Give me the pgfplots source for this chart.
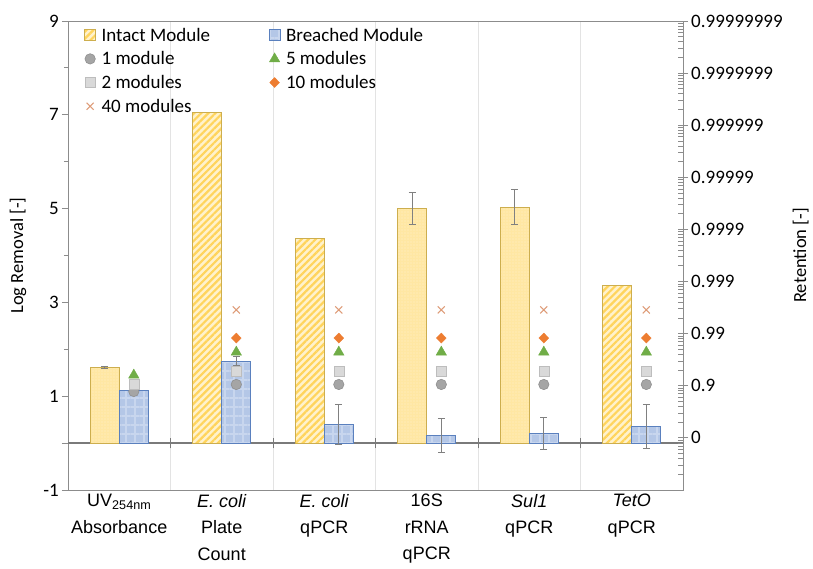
\documentclass[border=0pt]{standalone}
\usepackage{fontspec}
\setmainfont{Carlito}
\newfontfamily\arialfont{Liberation Sans}
\usepackage{pgfplots}
\pgfplotsset{compat=1.18}
\usetikzlibrary{patterns.meta}
\definecolor{intfill}{HTML}{FFF2CC}
\definecolor{intline}{HTML}{FFD45C}
\definecolor{intdot}{HTML}{FFE7A3}
\definecolor{intedge}{HTML}{CDAE4E}
\definecolor{brfill}{HTML}{B4C7E7}
\definecolor{bredge}{HTML}{5A80BE}
\definecolor{brpat}{HTML}{C8D6EE}
\definecolor{mone}{HTML}{A5A5A5}
\definecolor{moned}{HTML}{909090}
\definecolor{mtwo}{HTML}{D9D9D9}
\definecolor{mtwod}{HTML}{BDBDBD}
\definecolor{mfive}{HTML}{70AD47}
\definecolor{mten}{HTML}{ED7D31}
\definecolor{mforty}{HTML}{DE9C78}
\definecolor{errc}{HTML}{808080}
\definecolor{gridc}{HTML}{E3E3E3}
\definecolor{axc}{HTML}{8C8C8C}
\definecolor{zc}{HTML}{7A7A7A}
\pgfplotsset{
  barleg/.style={legend image code/.code={\draw[##1] (0bp,-5.5bp) rectangle (11bp,5.5bp);}},
  markleg/.style={legend image code/.code={\draw[##1] plot coordinates {(5.5bp,0bp)};}},
}
\begin{document}
\begin{tikzpicture}
\begin{axis}[
  at={(0,0)}, anchor=south west,
  scale only axis, width=615bp, height=469bp,
  xmin=-0.5, xmax=5.5, ymin=-1, ymax=9,
  axis line style={draw=axc, line width=0.9bp},
  xtick={0,1,2,3,4,5},
  xticklabels={{UV\textsubscript{254nm}\\Absorbance},{\textit{E. coli}\\Plate\\Count},{\textit{E. coli}\\qPCR},{16S\\rRNA\\qPCR},{\textit{Sul1}\\qPCR},{\textit{TetO}\\qPCR}},
  xticklabel style={font=\arialfont\fontsize{18bp}{26.5bp}\selectfont, align=center, anchor=north, inner sep=0pt, yshift=2bp},
  xtick style={draw=none},
  minor xtick={0.5,1.5,2.5,3.5,4.5},
  minor x tick style={draw=none},
  xminorgrids=true,
  minor x grid style={draw=gridc, line width=0.9bp},
  ytick={-1,1,3,5,7,9},
  yticklabels={-1,1,3,5,7,9},
  minor ytick={0,2,4,6,8},
  ytick pos=left,
  tick align=outside,
  major tick length=6bp, minor tick length=4bp,
  y tick style={draw=axc, line width=0.9bp},
  yticklabel style={font=\fontsize{19bp}{21bp}\selectfont, inner sep=3bp},
  /pgf/number format/assume math mode=true,
  extra y ticks={0}, extra y tick labels={},
  extra y tick style={ymajorgrids=true, major grid style={draw=zc, line width=1.2bp}, tick style={draw=none}},
  ylabel={Log Removal [-]},
  every axis y label/.style={at={(axis description cs:-0.0813,0.5)}, rotate=90, anchor=center, font=\fontsize{18.5bp}{20bp}\selectfont},
  legend columns=2,
  legend cell align=left,
  legend style={at={(axis description cs:0.026,0.989)}, anchor=north west, draw=none, fill=none, inner sep=0pt,
    font=\fontsize{19bp}{22bp}\selectfont, row sep=6bp,
    nodes={inner sep=1.5bp},
    /tikz/every odd column/.append style={column sep=4bp},
    /tikz/every even column/.append style={column sep=57bp}},
]
% Intact module bars (hatched)
\addplot[ybar, bar width=0.283, bar shift=-0.142, fill=intfill, draw=intedge, line width=0.9bp,
  postaction={pattern={Lines[angle=45,distance=5bp,line width=2.2bp]}, pattern color=intline}, barleg]
  coordinates {(1,7.04) (2,4.37) (5,3.37)};
\addlegendentry{Intact Module}
% Intact module bars (dotted)
\addplot[ybar, bar width=0.283, bar shift=-0.142, fill=intdot, draw=intedge, line width=0.9bp, forget plot,
  postaction={pattern={Dots[distance=3bp,radius=0.7bp]}, pattern color=intfill}]
  coordinates {(0,1.61) (3,5.00) (4,5.03)};
% Breached module bars
\addplot[ybar, bar width=0.283, bar shift=0.142, fill=brfill, draw=bredge, line width=0.9bp,
  postaction={pattern={Hatch[angle=0,distance=9bp,line width=1.2bp]}, pattern color=brpat}, barleg]
  coordinates {(0,1.12) (1,1.75) (2,0.40) (3,0.17) (4,0.21) (5,0.36)};
\addlegendentry{Breached Module}
% error bars
\addplot[draw=none, mark=none, forget plot,
  error bars/.cd, y dir=both, y explicit,
  error bar style={draw=errc, line width=1bp},
  error mark options={draw=errc, rotate=90, mark size=3.5bp, line width=1bp}]
  coordinates {(-0.142,1.61) +- (0,0.02) (2.858,5.00) +- (0,0.34) (3.858,5.03) +- (0,0.37)
               (1.142,1.75) +- (0,0.09) (2.142,0.40) +- (0,0.43) (3.142,0.17) +- (0,0.36)
               (4.142,0.21) +- (0,0.34) (5.142,0.36) +- (0,0.47)};
% markers
\addplot[only marks, mark=*, mark size=5.2bp, mark options={fill=mone, draw=moned, line width=0.6bp}, markleg]
  coordinates {(0.142,1.10) (1.142,1.25) (2.142,1.25) (3.142,1.25) (4.142,1.25) (5.142,1.25)};
\addlegendentry{1 module}
\addplot[only marks, mark=triangle*, mark size=6bp, mark options={fill=mfive, draw=mfive, line width=0.4bp}, markleg]
  coordinates {(0.142,1.45) (1.142,1.94) (2.142,1.94) (3.142,1.94) (4.142,1.94) (5.142,1.94)};
\addlegendentry{5 modules}
\addplot[only marks, mark=square*, mark size=5bp, mark options={fill=mtwo, draw=mtwod, line width=0.6bp}, markleg]
  coordinates {(0.142,1.25) (1.142,1.54) (2.142,1.54) (3.142,1.54) (4.142,1.54) (5.142,1.54)};
\addlegendentry{2 modules}
\addplot[only marks, mark=diamond*, mark size=5bp, mark options={fill=mten, draw=mten, line width=0.4bp, xscale=1.3}, markleg]
  coordinates {(1.142,2.24) (2.142,2.24) (3.142,2.24) (4.142,2.24) (5.142,2.24)};
\addlegendentry{10 modules}
\addplot[only marks, mark=x, mark size=5bp, mark options={draw=mforty, line width=1.1bp}, markleg]
  coordinates {(1.142,2.84) (2.142,2.84) (3.142,2.84) (4.142,2.84) (5.142,2.84)};
\addlegendentry{40 modules}
% category ticks on the zero line
\pgfplotsinvokeforeach{0.5,1.5,2.5,3.5,4.5}{
  \draw[zc, line width=1bp] (axis cs:#1,-0.11) -- (axis cs:#1,0.11);
}
\end{axis}
\begin{axis}[
  at={(0,0)}, anchor=south west,
  scale only axis, width=615bp, height=469bp,
  xmin=-0.5, xmax=5.5, ymin=-1, ymax=8,
  axis x line=none, axis y line*=right,
  xtick=\empty,
  axis line style={draw=axc, line width=0.9bp},
  ytick={0,1,2,3,4,5,6,7,8},
  yticklabels={0,0.9,0.99,0.999,0.9999,0.99999,0.999999,0.9999999,0.99999999},
  minor ytick={-0.699,-0.523,-0.398,-0.301,-0.222,-0.155,-0.097,-0.046,
    0.301,0.477,0.602,0.699,0.778,0.845,0.903,0.954,
    1.301,1.477,1.602,1.699,1.778,1.845,1.903,1.954,
    2.301,2.477,2.602,2.699,2.778,2.845,2.903,2.954,
    3.301,3.477,3.602,3.699,3.778,3.845,3.903,3.954,
    4.301,4.477,4.602,4.699,4.778,4.845,4.903,4.954,
    5.301,5.477,5.602,5.699,5.778,5.845,5.903,5.954,
    6.301,6.477,6.602,6.699,6.778,6.845,6.903,6.954,
    7.301,7.477,7.602,7.699,7.778,7.845,7.903,7.954},
  tick align=center, major tick length=10bp, minor tick length=5bp,
  y tick style={draw=axc, line width=0.8bp},
  minor y tick style={xshift=-2.5bp},
  yticklabel style={font=\fontsize{19bp}{21bp}\selectfont, inner sep=3bp},
  ylabel={Retention [-]},
  every axis y label/.style={at={(axis description cs:1.2,0.5)}, rotate=90, anchor=base, font=\fontsize{18.5bp}{20bp}\selectfont},
]
\end{axis}
\pgfresetboundingbox
\useasboundingbox (-68bp,-79bp) rectangle (745bp,490bp);
\end{tikzpicture}
\end{document}
